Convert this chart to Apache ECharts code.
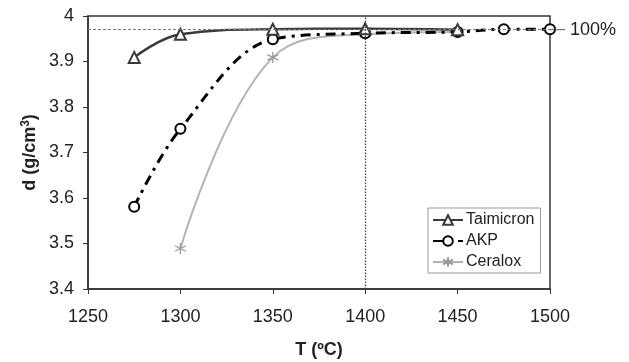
<!DOCTYPE html>
<html><head><meta charset="utf-8">
<script src="https://cdn.jsdelivr.net/npm/echarts@6/dist/echarts.min.js"></script>
<style>html,body{margin:0;padding:0;background:#fff}#c{width:629px;height:362px}</style>
</head><body><div id="c"></div>
<script>
var xTicks = [1250, 1300, 1350, 1400, 1450, 1500];
var yTicks = [3.4, 3.5, 3.6, 3.7, 3.8, 3.9, 4];
var taimicronT = [1275, 1300, 1350, 1400, 1450];
var taimicronD = [3.909, 3.960, 3.971, 3.972, 3.970];
var akpT = [1275, 1300, 1350, 1400, 1450, 1475, 1500];
var akpD = [3.581, 3.752, 3.949, 3.962, 3.965, 3.971, 3.971];
var ceraloxT = [1300, 1350, 1400, 1450];
var ceraloxD = [3.489, 3.909, 3.960, 3.965];
var fullDensity = 3.973;
var refT = 1400;

function pairs(xs, ys){ return xs.map(function(x,i){return [x, ys[i]];}); }
var asterisk = 'path://M0,-10L0,10M-8.66,-5L8.66,5M-8.66,5L8.66,-5';
var F = 'Liberation Sans, Arial, sans-serif';

var chart = echarts.init(document.getElementById('c'));
chart.setOption({
  animation: false,
  grid: {left: 88, right: 79, top: 16, bottom: 73, show: true, borderColor: '#333', borderWidth: 1.5,
         containLabel: false, outerBoundsMode: 'none'},
  xAxis: {
    type: 'value', min: xTicks[0], max: xTicks[xTicks.length-1], interval: 50,
    axisLine: {lineStyle: {color: '#333', width: 1.5}},
    axisTick: {show: true, inside: false, length: 5, lineStyle: {color: '#333'}},
    splitLine: {show: false},
    axisLabel: {color: '#222', fontSize: 18, fontFamily: F, margin: 19,
      formatter: function(v){ return String(v); }},
    name: 'T (ºC)', nameLocation: 'middle', nameGap: 52, nameMoveOverlap: false,
    nameTextStyle: {color: '#222', fontSize: 18, fontWeight: 'bold', fontFamily: F}
  },
  yAxis: {
    type: 'value', min: yTicks[0], max: yTicks[yTicks.length-1], interval: 0.1,
    axisLine: {show: true, lineStyle: {color: '#333', width: 1.5}},
    axisTick: {show: true, length: 5, lineStyle: {color: '#333'}},
    splitLine: {show: false},
    axisLabel: {color: '#222', fontSize: 18, fontFamily: F, margin: 14,
      formatter: function(v){ return (Math.round(v*10)/10).toString(); }},
    name: '{a|d (g/cm}{s|3}{a|)}', nameLocation: 'middle', nameGap: 47, nameMoveOverlap: false,
    nameTextStyle: {rich: {
      a: {fontSize: 18, fontWeight: 'bold', fontFamily: F, color: '#222'},
      s: {fontSize: 12, fontWeight: 'bold', fontFamily: F, color: '#222', verticalAlign: 'top', padding: [0,0,9,0]}
    }}
  },
  legend: {
    left: 428, top: 208, width: 119, orient: 'vertical',
    backgroundColor: '#fff', borderColor: '#999', borderWidth: 1,
    padding: [4, 6, 3, 4], itemGap: 5, itemWidth: 30, itemHeight: 12,
    textStyle: {fontSize: 16, fontFamily: F, color: '#222', padding: [0,0,0,-2]},
    data: ['Taimicron', 'AKP', 'Ceralox']
  },
  series: [
    {
      name: 'Ceralox', type: 'line', data: pairs(ceraloxT, ceraloxD), smooth: 0.4,
      symbol: asterisk, symbolSize: 11,
      lineStyle: {color: '#b3b3b3', width: 2},
      itemStyle: {color: 'none', borderColor: '#999', borderWidth: 1.3},
      z: 2
    },
    {
      name: 'AKP', type: 'line', data: pairs(akpT, akpD), smooth: 0.35,
      symbol: 'emptyCircle', symbolSize: 10,
      lineStyle: {color: '#000', width: 3, type: [10, 6, 3, 6]},
      itemStyle: {color: '#000', borderColor: '#222', borderWidth: 1.2},
      z: 3
    },
    {
      name: 'Taimicron', type: 'line', data: pairs(taimicronT, taimicronD), smooth: 0.4,
      symbol: 'emptyTriangle', symbolSize: 11,
      lineStyle: {color: '#3a3a3a', width: 2.4},
      itemStyle: {color: '#3a3a3a', borderColor: '#444', borderWidth: 1.2},
      z: 4,
      markLine: {
        silent: true, symbol: 'none', animation: false,
        data: [
          {yAxis: fullDensity, lineStyle: {color: '#777', width: 1, type: [3, 2]},
           label: {show: true, position: 'end', distance: 0, formatter: '{l|}{t|100%}',
             rich: {l: {width: 15, height: 1, backgroundColor: '#555'},
                    t: {fontSize: 18, fontFamily: F, color: '#222', padding: [0,0,0,5]}}}},
          {xAxis: refT, lineStyle: {color: '#444', width: 1.3, type: [1.5, 1.5]}, label: {show: false}}
        ]
      }
    }
  ]
});
</script></body></html>
